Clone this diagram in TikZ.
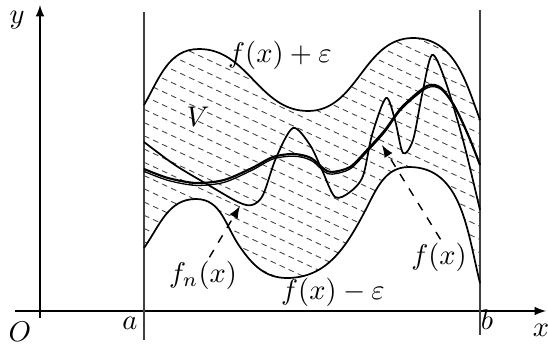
\documentclass[tikz,border=0pt]{standalone}
\usepackage{amsmath}

\begin{document}
\begin{tikzpicture}[scale=0.4934, >=latex,
  envelope/.style={line width=0.6pt},
  hatch/.style={black!75, line width=0.3pt, dash pattern=on 2pt off 1.5pt},
  pointer/.style={->, dashed, line width=0.5pt},
  lbl/.style={inner sep=1pt}]
  % Uniform convergence band

  \useasboundingbox (-1,-0.85) rectangle (12.7,7.775);

  % Hatched band between f(x)-eps and f(x)+eps
  \begin{scope}
    \clip (2.6,5.15) to[out=60,in=180] (3.975,6.55) to[out=0,in=180] (6.7,5.0)
      to[out=0,in=180] (9.325,6.825) to[out=0,in=110] (11.0,4.775)
      -- (11.0,0.7) to[out=104,in=0] (9.225,3.6) to[out=180,in=62] (8.1,2.45)
      to[out=-118,in=0] (6.175,0.825) to[out=180,in=-55] (5.0,1.6)
      to[out=125,in=0] (3.9,2.8) to[out=180,in=55] (2.6,1.575) -- cycle;
    \foreach \k in {0,...,33}
      \draw[hatch] (2.6,{11-0.331*\k}) -- ++(-25:9.6);
  \end{scope}

  % Axes
  \draw[->, line width=0.4pt] (-0.625,0) -- (12.65,0);
  \draw[->, line width=0.4pt] (0,-0.175) -- (0,7.65);
  \node (O) at (-0.5,-0.525) {$O$};
  \node (xlbl) at (12.525,-0.475) {$x$};
  \node (ylbl) at (-0.575,7.275) {$y$};

  % Lines x=a and x=b
  \draw[black!75, line width=0.5pt] (2.6,-0.725) -- (2.6,7.475);
  \draw[black!75, line width=0.5pt] (11.0,-0.6) -- (11.0,7.525);
  \node (alb) at (2.25,-0.3) {$a$};
  \node (blb) at (11.175,-0.225) {$b$};

  % f(x)+eps and f(x)-eps
  \draw[envelope] (2.6,5.15) to[out=60,in=180] (3.975,6.55) to[out=0,in=180] (6.7,5.0)
    to[out=0,in=180] (9.325,6.825) to[out=0,in=110] (11.0,4.775);
  \draw[envelope] (2.6,1.575) to[out=55,in=180] (3.9,2.8) to[out=0,in=125] (5.0,1.6)
    to[out=-55,in=180] (6.175,0.825) to[out=0,in=-118] (8.1,2.45)
    to[out=62,in=180] (9.225,3.6) to[out=0,in=104] (11.0,0.7);

  % f(x) and a close f_n(x)
  \draw[line width=0.75pt] plot[smooth] coordinates {(2.6,3.55) (3.2,3.325) (3.9,3.2) (4.6,3.275) (5.3,3.575) (5.825,3.85) (6.35,3.925) (6.775,3.825) (7.1,3.55) (7.3,3.475) (7.75,3.6) (8.175,4.025) (8.625,4.525) (9.05,5.1) (9.675,5.625) (10.025,5.575) (10.375,5.1) (10.725,4.35) (11.0,3.65)};
  \draw[line width=0.45pt] plot[smooth] coordinates {(2.6,3.49) (3.2,3.265) (3.9,3.14) (4.6,3.215) (5.3,3.52) (5.825,3.8) (6.35,3.87) (6.775,3.77) (7.1,3.49) (7.3,3.42) (7.75,3.55) (8.175,3.98) (8.625,4.48) (9.05,5.06) (9.675,5.575) (10.025,5.54) (10.375,5.08) (10.725,4.34) (11.0,3.65)};

  % Oscillating f_n(x)
  \draw[line width=0.6pt] plot[smooth] coordinates {(2.6,4.225) (3.375,3.65) (4.125,3.2) (4.95,2.725) (5.3,2.65) (5.575,2.9) (5.9,3.825) (6.325,4.575) (6.75,4.15) (7.05,3.525) (7.375,2.85) (7.75,2.975) (8.075,3.375) (8.3,4.4) (8.65,5.325) (8.875,4.775) (9.075,3.95) (9.325,4.275) (9.55,5.4) (9.8,6.4) (10.125,5.775) (10.575,4.275) (11.0,2.525)};

  % Labels
  \node[lbl] (upper) at (6.0,6.4) {$f(x)+\varepsilon$};
  \node[lbl] (lower) at (7.325,0.475) {$f(x)-\varepsilon$};
  \node[lbl] (V) at (3.95,4.85) {$V$};
  \node[lbl] (fnlbl) at (4.075,0.9) {$f_n(x)$};
  \node[lbl] (flbl) at (9.975,1.35) {$f(x)$};

  % Pointers
  \coordinate (fntip) at (5.0,2.625);
  \coordinate (ftip) at (8.55,4.15);
  \draw[pointer] (fnlbl.70) -- (fntip);
  \draw[pointer] (flbl.85) -- (ftip);
\end{tikzpicture}
\end{document}
